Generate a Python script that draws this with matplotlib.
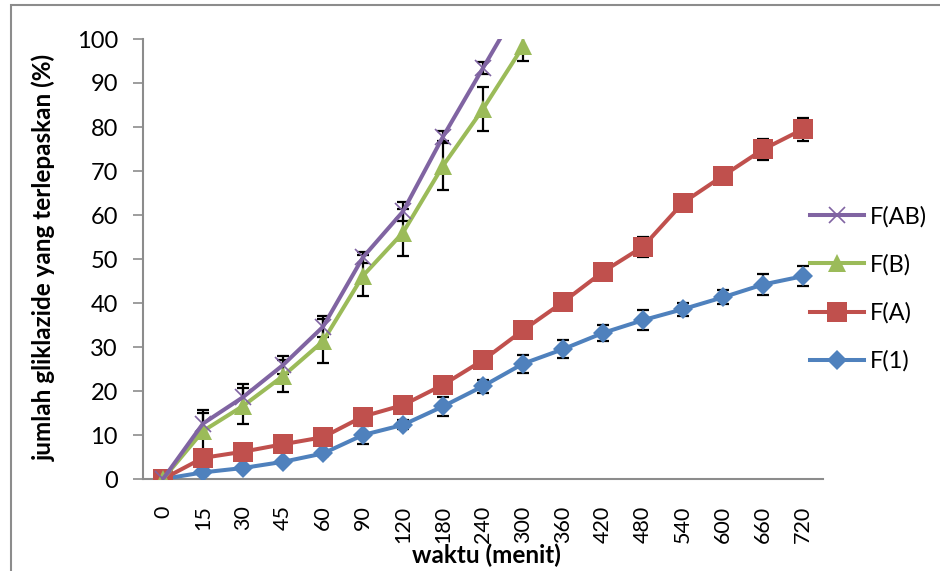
import numpy as np
import matplotlib; matplotlib.use("Agg")
import matplotlib.pyplot as plt
from matplotlib.patches import Rectangle

plt.rcParams["font.family"] = ["Lato", "DejaVu Sans"]

waktu = ["0", "15", "30", "45", "60", "90", "120", "180", "240", "300",
         "360", "420", "480", "540", "600", "660", "720"]

# release (%) per formula; F(B) and F(AB) stop at 300 min
f1 = [0, 1.5, 2.5, 3.9, 5.8, 10.0, 12.3, 16.5, 21.1, 26.2,
      29.5, 33.2, 36.1, 38.6, 41.3, 44.2, 46.1]
f1_sd = [0, 0.5, 0.5, 0.5, 0.6, 2.0, 1.0, 2.2, 1.5, 2.0,
         2.0, 1.8, 2.2, 1.5, 1.6, 2.3, 2.3]
fa = [0, 4.8, 6.2, 7.9, 9.5, 14.2, 16.8, 21.4, 27.0, 33.8,
      40.2, 47.1, 52.8, 62.8, 68.9, 74.9, 79.5]
fa_sd = [0, 0.8, 0.8, 0.8, 0.8, 1.0, 0.9, 1.2, 1.0, 1.2,
         1.2, 1.5, 2.3, 1.5, 1.6, 2.4, 2.6]
fb = [0, 10.9, 16.6, 23.4, 31.3, 46.2, 56.0, 71.2, 84.1, 98.3]
fb_sd = [0, 4.2, 4.0, 3.7, 5.0, 4.6, 5.4, 5.6, 5.0, 3.2]
fab = [0, 12.6, 18.6, 25.9, 34.6, 50.4, 60.8, 77.8, 93.4, 109.0]
fab_sd = [0, 3.0, 3.0, 2.0, 2.4, 1.2, 2.2, 1.4, 1.3, 1.0]

series = [  # label, values, sd, colour, marker, markersize
    ("F(1)", f1, f1_sd, "#4F81BD", "D", 10),
    ("F(A)", fa, fa_sd, "#C0504D", "s", 14),
    ("F(B)", fb, fb_sd, "#9BBB59", "^", 13),
    ("F(AB)", fab, fab_sd, "#8064A2", "x", 11),
]

fig = plt.figure(figsize=(9.4, 5.71), dpi=100)
fig.patches.append(Rectangle((11 / 940, -0.01), 1.0, 1 - 5 / 571 + 0.01, transform=fig.transFigure,
                             fill=False, edgecolor="#8c8c8c", lw=1.5))
ax = fig.add_axes([143 / 940, 92 / 571, 680 / 940, 440 / 571])

x = np.arange(len(waktu))
handles = []
for i, (lab, v, sd, c, mk, ms) in enumerate(series):
    xi = x[:len(v)]
    mew = 1.2 if mk == "x" else 0
    ax.errorbar(xi, v, yerr=sd, fmt="none", ecolor="black", elinewidth=1.6, capsize=4.5,
                capthick=1.6, zorder=2)
    h, = ax.plot(xi, v, "-", color=c, lw=2.9, marker=mk, ms=ms, mew=mew, mec=c, mfc=c,
                 label=lab, zorder=3 + i)
    handles.append(h)

ax.set_xlim(-0.5, len(waktu) - 0.5)
ax.set_ylim(0, 100)
ax.set_yticks(np.arange(0, 101, 10))
ax.set_xticks(x)
ax.set_xticklabels(waktu, rotation=90, fontsize=15.5)
ax.tick_params(axis="y", labelsize=17, length=7, width=1.2, color="#8c8c8c", pad=11)
ax.tick_params(axis="x", length=0, pad=19)
for s in ("top", "right"):
    ax.spines[s].set_visible(False)
for s in ("left", "bottom"):
    ax.spines[s].set_color("#8c8c8c")
    ax.spines[s].set_linewidth(1.5)

fig.text(44 / 940, 0.55, "jumlah gliklazide yang terlepaskan (%)", rotation=90,
         ha="center", va="center", fontsize=17.5, fontweight="bold")
fig.text(486 / 940, 0.028, "waktu (menit)", ha="center", va="center",
         fontsize=17.5, fontweight="bold")

ax.legend(handles[::-1], [h.get_label() for h in handles[::-1]], loc="center left",
          bbox_to_anchor=(0.949, 0.432), frameon=False, fontsize=17, handlelength=2.3,
          labelspacing=1.13, handletextpad=0.25)

fig.savefig("out.png", dpi=100)
